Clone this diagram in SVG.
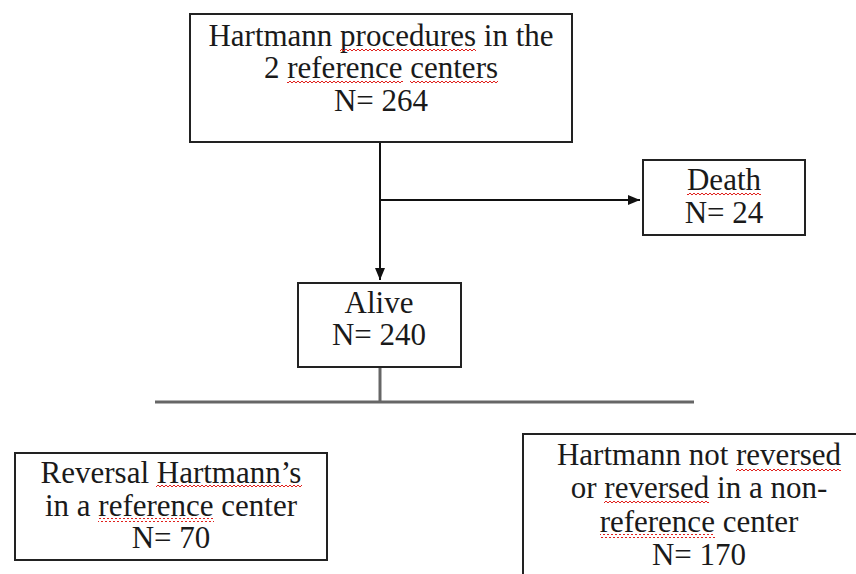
<svg xmlns="http://www.w3.org/2000/svg" width="856" height="574" viewBox="0 0 856 574">
<style>
.box{fill:#fff;stroke:#222;stroke-width:2}
.t{font-family:"Liberation Serif","Times New Roman",serif;font-size:31px;fill:#1a1a1a;text-anchor:middle}
.sq{fill:url(#wave)}
.ln{fill:none;stroke:#111;stroke-width:2}
.gr{fill:none;stroke:#666;stroke-width:3}
</style>
<defs>
<marker id="ah" markerWidth="12" markerHeight="10" refX="12" refY="5" orient="auto" markerUnits="userSpaceOnUse">
<path d="M0,0 L12,5 L0,10 Z" fill="#111"/>
</marker>
<pattern id="wave" patternUnits="userSpaceOnUse" width="4" height="4">
<path d="M0,3 L2,1 L4,3" fill="none" stroke="#e0201c" stroke-width="1"/>
</pattern>
</defs>
<rect width="856" height="574" fill="#fff"/>
<g id="connectors">
<line class="ln" x1="380" y1="142" x2="380" y2="280" marker-end="url(#ah)"/>
<line class="ln" x1="380" y1="200" x2="640" y2="200" marker-end="url(#ah)"/>
<line class="gr" x1="380" y1="367" x2="380" y2="402"/>
<line class="gr" x1="155" y1="402" x2="694" y2="402"/>
</g>
<g id="n-top">
<rect class="box" x="190" y="14" width="382" height="128"/>
<text class="t" x="381" y="46">Hartmann procedures in the</text>
<text class="t" x="381" y="78">2 reference centers</text>
<text class="t" x="381" y="111">N= 264</text>
<rect class="sq" x="340" y="48" width="136" height="4"/>
<rect class="sq" x="287" y="80" width="116" height="4"/>
<rect class="sq" x="410" y="80" width="88" height="4"/>
</g>
<g id="n-death">
<rect class="box" x="643" y="160" width="162" height="75"/>
<text class="t" x="724" y="190">Death</text>
<text class="t" x="724" y="223">N= 24</text>
<rect class="sq" x="687" y="192" width="74" height="4"/>
</g>
<g id="n-alive">
<rect class="box" x="298" y="283" width="163" height="84"/>
<text class="t" x="379" y="313">Alive</text>
<text class="t" x="379" y="345">N= 240</text>
</g>
<g id="n-reversal">
<rect class="box" x="15" y="453" width="312" height="107"/>
<text class="t" x="171" y="483">Reversal Hartmann’s</text>
<text class="t" x="171" y="516">in a reference center</text>
<text class="t" x="171" y="548">N= 70</text>
<rect class="sq" x="156" y="485" width="146" height="4"/>
<rect class="sq" x="98" y="518" width="116" height="4"/>
</g>
<g id="n-notrev">
<rect class="box" x="523" y="434" width="345" height="160"/>
<text class="t" x="699" y="465">Hartmann not reversed</text>
<text class="t" x="699" y="498">or reversed in a non-</text>
<text class="t" x="699" y="532">reference center</text>
<text class="t" x="699" y="565">N= 170</text>
<rect class="sq" x="736" y="467" width="105" height="4"/>
<rect class="sq" x="604" y="500" width="105" height="4"/>
<rect class="sq" x="600" y="534" width="115" height="4"/>
</g>
</svg>
